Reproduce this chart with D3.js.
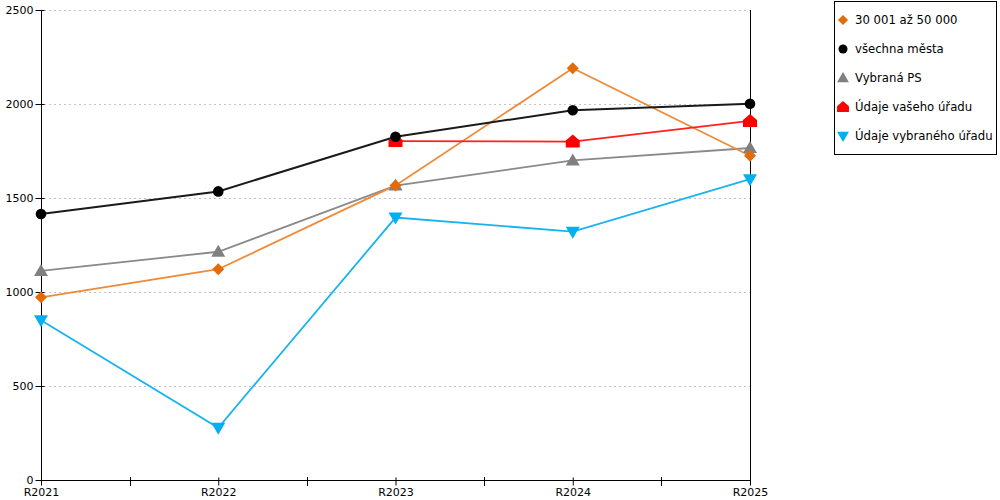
<!DOCTYPE html>
<html><head><meta charset="utf-8">
<script src="https://cdn.jsdelivr.net/npm/d3@7"></script>
<style>body{margin:0;background:#fff;}svg{display:block;font-family:"DejaVu Sans",Verdana,sans-serif;}</style>
</head><body><svg id="c" width="1000" height="500"></svg>
<script>
const categories = ["R2021","R2022","R2023","R2024","R2025"];
const yTicks = [0,500,1000,1500,2000,2500];
const seriesNames = ["30 001 až 50 000","všechna města","Vybraná PS","Údaje vašeho úřadu","Údaje vybraného úřadu"];
const valsOrange = [972,1121,1567,2190,1725];
const valsBlack = [1415,1535,1826,1967,2001];
const valsGray = [1112,1214,1566,1700,1766];
const valsRed = [null,null,1803,1800,1910];
const valsBlue = [850,278,1396,1321,1600];
const lineColors = ["#ee8a38","#1a1a1a","#8a8a8a","#ff2020","#19b4ee"];
const markerColors = ["#e36c0a","#000000","#808080","#ff0000","#00b0f0"];
const markerTypes = ["diamond","circle","triangle","house","triangleDown"];

const svg = d3.select("#c");
const L=41,R=750,T=10,B=480;
const x = d3.scalePoint().domain(categories).range([L,R]);
const y = d3.scaleLinear().domain([0,2500]).range([B,T]);

// grid
svg.append("g").selectAll("line").data(yTicks.filter(d=>d>0)).join("line")
  .attr("x1",L+3).attr("x2",R).attr("y1",d=>y(d)+0.5).attr("y2",d=>y(d)+0.5)
  .attr("stroke","#c4c4c4").attr("stroke-dasharray","2,3").attr("stroke-width",1);

// y axis
const ya = svg.append("g").attr("transform",`translate(${L+0.5},0)`)
  .call(d3.axisLeft(y).tickValues(yTicks).tickSize(6).tickPadding(3).tickFormat(d3.format("d")));
ya.select(".domain").attr("stroke","#000").attr("d",`M0,${T}V${B}`);
ya.selectAll(".tick line").attr("x2",3).attr("x1",-6).attr("stroke","#000");
ya.selectAll("text").attr("font-size","11px").attr("fill","#000").attr("font-family","DejaVu Sans, Verdana, sans-serif").attr("x",-8);

// right border
svg.append("line").attr("x1",R+0.5).attr("x2",R+0.5).attr("y1",T).attr("y2",B).attr("stroke","#000");

// x axis
const xa = svg.append("g").attr("transform",`translate(0,${B+0.5})`)
  .call(d3.axisBottom(x).tickSize(5).tickPadding(3));
xa.select(".domain").attr("stroke","#000").attr("d",`M${L},0H${R+1}`);
xa.selectAll(".tick line").attr("stroke","#000").attr("y1",(d,i)=> (i===0||i===categories.length-1)?0:-3).attr("y2",5);
xa.selectAll("text").attr("font-size","11px").attr("fill","#000").attr("font-family","DejaVu Sans, Verdana, sans-serif").attr("y",8);
// minor ticks between categories
const mids = categories.slice(0,-1).map((c,i)=> (x(c)+x(categories[i+1]))/2);
svg.append("g").selectAll("line").data(mids).join("line")
  .attr("x1",d=>Math.round(d)+0.5).attr("x2",d=>Math.round(d)+0.5).attr("y1",B-3).attr("y2",B+6).attr("stroke","#000");

const allSeries = [valsOrange,valsBlack,valsGray,valsRed,valsBlue];

function marker(sel,type,color){
  let p;
  if(type==="circle"){ sel.append("circle").attr("r",5.3).attr("fill",color); return; }
  if(type==="diamond") p=[[0,-6],[6,0],[0,6],[-6,0]];
  if(type==="triangle") p=[[0,-7],[7,5],[-7,5]];
  if(type==="triangleDown") p=[[0,7],[7,-5],[-7,-5]];
  if(type==="house") p=[[0,-7],[7,-1],[7,6],[-7,6],[-7,-1]];
  sel.append("path").attr("d","M"+p.map(q=>q.join(",")).join("L")+"Z").attr("fill",color);
}

const order=[2,0,4,3,1];
order.forEach(i=>{
  const vals=allSeries[i];
  const pts=categories.map((c,j)=>({c,v:vals[j]})).filter(d=>d.v!=null);
  svg.append("path").datum(pts)
    .attr("d",d3.line().x(d=>x(d.c)).y(d=>y(d.v)))
    .attr("fill","none").attr("stroke",lineColors[i]).attr("stroke-width",i===1?2:1.8);
});
order.forEach(i=>{
  const vals=allSeries[i];
  const pts=categories.map((c,j)=>({c,v:vals[j]})).filter(d=>d.v!=null);
  pts.forEach(d=>{
    const g=svg.append("g").attr("transform",`translate(${x(d.c)},${y(d.v)})`);
    marker(g,markerTypes[i],markerColors[i]);
  });
});

// legend
const lg = svg.append("g");
lg.append("rect").attr("x",834.5).attr("y",1.5).attr("width",162).attr("height",153)
  .attr("fill","#fff").attr("stroke","#000");
seriesNames.forEach((n,i)=>{
  const cy=20+i*29;
  const g=lg.append("g").attr("transform",`translate(843,${cy})`);
  const gm=g.append("g").attr("transform","scale(0.85)");
  marker(gm,markerTypes[i],markerColors[i]);
  lg.append("text").attr("x",855).attr("y",cy+4).attr("font-size","11.7px").attr("fill","#000").text(n);
});
</script></body></html>
